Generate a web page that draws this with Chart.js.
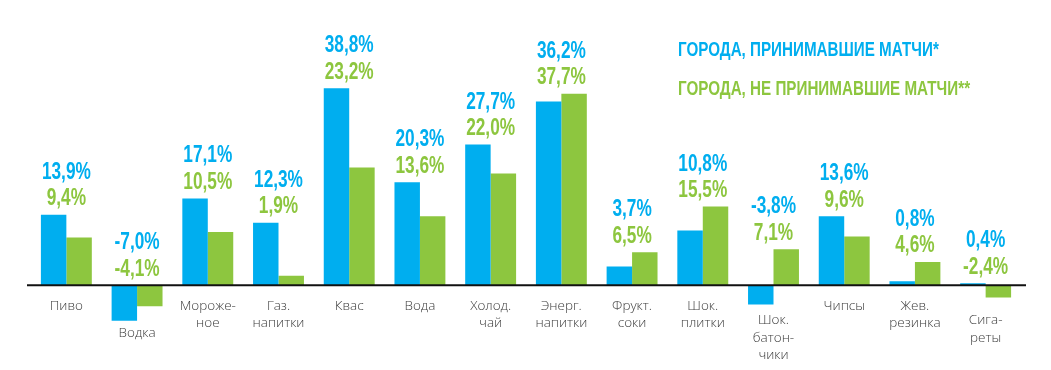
<!DOCTYPE html>
<html><head><meta charset="utf-8">
<script src="https://cdn.jsdelivr.net/npm/chart.js@4"></script>
<style>html,body{margin:0;padding:0;background:#fff}canvas{display:block}</style>
</head><body>
<canvas id="c" width="1051" height="370"></canvas>
<script>
const categories = [["Пиво"],["Водка"],["Мороже-","ное"],["Газ.","напитки"],["Квас"],["Вода"],["Холод.","чай"],["Энерг.","напитки"],["Фрукт.","соки"],["Шок.","плитки"],["Шок.","батон-","чики"],["Чипсы"],["Жев.","резинка"],["Сига-","реты"]];
const hostCities = [13.9,-7.0,17.1,12.3,38.8,20.3,27.7,36.2,3.7,10.8,-3.8,13.6,0.8,0.4];
const otherCities = [9.4,-4.1,10.5,1.9,23.2,13.6,22.0,37.7,6.5,15.5,7.1,9.6,4.6,-2.4];
const seriesNames = ["ГОРОДА, ПРИНИМАВШИЕ МАТЧИ*","ГОРОДА, НЕ ПРИНИМАВШИЕ МАТЧИ**"];
const BLUE = "#00AEEF", GREEN = "#8DC63F";

function fmt(v){ return v.toFixed(1).replace('.', ',') + '%'; }

const overlay = {
  id: 'overlay',
  afterDatasetsDraw(chart){
    const ctx = chart.ctx, xs = chart.scales.x, ys = chart.scales.y, ca = chart.chartArea;
    const y0 = ys.getPixelForValue(0);
    ctx.save();
    // axis line
    ctx.strokeStyle = '#111'; ctx.lineWidth = 2;
    ctx.beginPath(); ctx.moveTo(ca.left - 4, y0); ctx.lineTo(ca.right + 5, y0); ctx.stroke();
    // value labels
    const cond = 0.75;
    const valFont = 'bold 23px "Liberation Sans Narrow", "Liberation Sans", sans-serif';
    categories.forEach((c,i)=>{
      const cx = xs.getPixelForValue(i);
      const top = ys.getPixelForValue(Math.max(0, hostCities[i], otherCities[i]));
      const b2 = top - 9.5, b1 = b2 - 26.5;
      ctx.font = valFont; ctx.textAlign = 'center'; ctx.textBaseline = 'alphabetic';
      [[hostCities[i],BLUE,b1],[otherCities[i],GREEN,b2]].forEach(([v,col,by])=>{
        ctx.save(); ctx.translate(cx, by); ctx.scale(cond,1);
        ctx.fillStyle = col; ctx.fillText(fmt(v), 0, 0); ctx.restore();
      });
      // category labels
      const mn = Math.min(0, hostCities[i], otherCities[i]);
      let ly = y0 + 20.5;
      if (mn < 0) ly = Math.max(y0 + 35, ys.getPixelForValue(mn) + 12.5);
      ctx.font = '300 13.5px "Open Sans", sans-serif';
      ctx.fillStyle = '#3c3c3c'; ctx.textBaseline = 'middle';
      c.forEach((line,k)=>{ ctx.fillText(line, cx, ly + k*17.5); });
    });
    // legend
    ctx.font = 'bold 20px "Liberation Sans Narrow", "Liberation Sans", sans-serif';
    ctx.textAlign = 'left'; ctx.textBaseline = 'middle';
    [[seriesNames[0],BLUE,50.5],[seriesNames[1],GREEN,89]].forEach(([t,col,ly])=>{
      ctx.save(); ctx.translate(678, ly); ctx.scale(0.76,1);
      ctx.fillStyle = col; ctx.fillText(t, 0, 0); ctx.restore();
    });
    ctx.restore();
  }
};

new Chart(document.getElementById('c'), {
  type: 'bar',
  data: {
    labels: categories.map(c=>c.join(' ')),
    datasets: [
      {label: seriesNames[0], data: hostCities, backgroundColor: BLUE, borderWidth: 0},
      {label: seriesNames[1], data: otherCities, backgroundColor: GREEN, borderWidth: 0}
    ]
  },
  options: {
    responsive: false, animation: false,
    layout: {padding: {left: 31, right: 30, top: 31.3, bottom: 8.5}},
    datasets: {bar: {categoryPercentage: 0.72, barPercentage: 1}},
    scales: {
      x: {display: false},
      y: {display: false, min: -15, max: 50}
    },
    plugins: {legend: {display: false}, tooltip: {enabled: false}}
  },
  plugins: [overlay]
});
</script>
</body></html>
